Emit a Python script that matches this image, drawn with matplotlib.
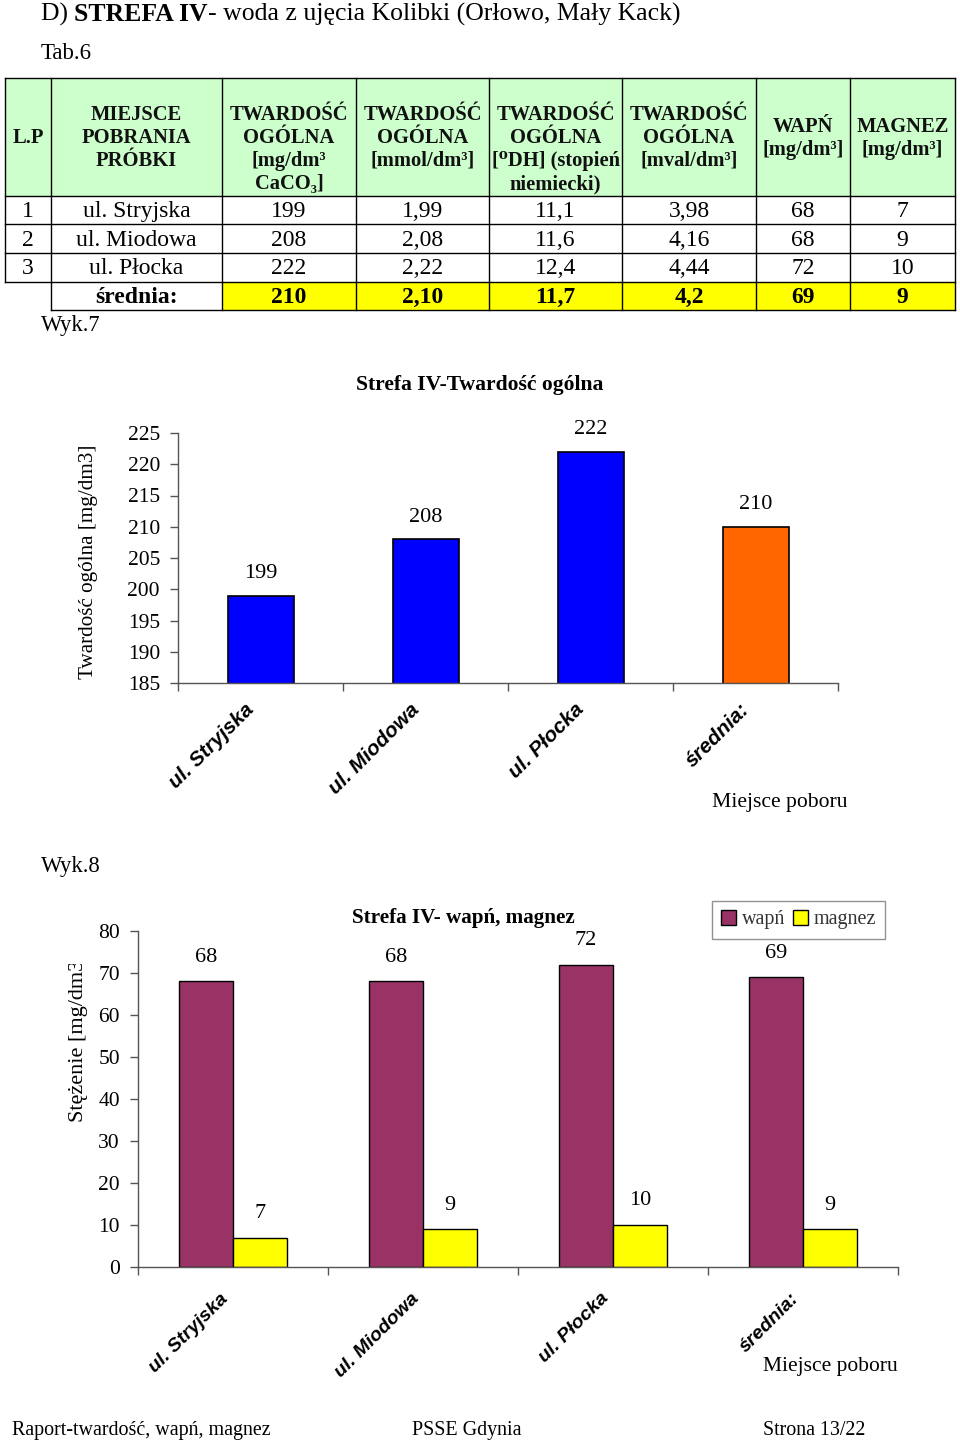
import matplotlib
matplotlib.use("Agg")
import matplotlib.pyplot as plt
from matplotlib.patches import Rectangle
from matplotlib.transforms import Bbox, ScaledTranslation
import numpy as np

# ---------------- data ----------------
places = ["ul. Stryjska", "ul. Miodowa", "ul. Płocka"]
avg_label = "średnia:"
hard_mg = [199, 208, 222]
hard_mg_avg = 210
hard_mmol = ["1,99", "2,08", "2,22"]
hard_mmol_avg = "2,10"
hard_dh = ["11,1", "11,6", "12,4"]
hard_dh_avg = "11,7"
hard_mval = ["3,98", "4,16", "4,44"]
hard_mval_avg = "4,2"
calcium = [68, 68, 72]
calcium_avg = 69
magnesium = [7, 9, 10]
magnesium_avg = 9
header_labels = ["L.P", "MIEJSCE\nPOBRANIA\nPRÓBKI",
                 "TWARDOŚĆ\nOGÓLNA\n[mg/dm³\nCaCO₃]",
                 "TWARDOŚĆ\nOGÓLNA\n[mmol/dm³]",
                 "TWARDOŚĆ\nOGÓLNA\n[⁰DH] (stopień\nniemiecki)",
                 "TWARDOŚĆ\nOGÓLNA\n[mval/dm³]",
                 "WAPŃ\n[mg/dm³]", "MAGNEZ\n[mg/dm³]"]
chart_cats = places + [avg_label]
chart1_vals = hard_mg + [hard_mg_avg]
chart2_ca = calcium + [calcium_avg]
chart2_mg = magnesium + [magnesium_avg]
chart1_yticks = list(range(185, 226, 5))
chart2_yticks = list(range(0, 81, 10))

SERIF = ["Liberation Serif", "DejaVu Serif"]
SANS = ["Liberation Sans", "DejaVu Sans"]

W, H = 960, 1442
fig = plt.figure(figsize=(W / 100, H / 100), dpi=100)
bg = fig.add_axes([0, 0, 1, 1])
bg.set_xlim(0, W)
bg.set_ylim(H, 0)
bg.axis("off")
renderer = fig.canvas.get_renderer()


def runs(x, y, pieces, size):
    """draw consecutive text runs (text, weight) from x on baseline y"""
    for txt, wt in pieces:
        t = bg.text(x, y, txt, fontsize=size, fontweight=wt, family=SERIF,
                    ha="left", va="baseline")
        bb = t.get_window_extent(renderer=renderer)
        x += bb.width


# ---------------- page text ----------------
runs(41, 21, [("D) ", "normal"), ("STREFA IV", "bold"),
              ("- woda z ujęcia Kolibki (Orłowo, Mały Kack)", "normal")], 18.5)
bg.text(41, 59, "Tab.6", fontsize=16.5, family=SERIF, va="baseline")
bg.text(41, 331, "Wyk.7", fontsize=16.3, family=SERIF, va="baseline")
bg.text(41, 872, "Wyk.8", fontsize=16.3, family=SERIF, va="baseline")
bg.text(12, 1435, "Raport-twardość, wapń, magnez", fontsize=14.4, family=SERIF, va="baseline")
bg.text(412, 1435, "PSSE Gdynia", fontsize=14.4, family=SERIF, va="baseline")
bg.text(763, 1435, "Strona 13/22", fontsize=14.4, family=SERIF, va="baseline")

# ---------------- table ----------------
col_x = [5, 51, 222, 356, 489, 622, 756, 850, 955]
row_y = [78, 196, 224, 253, 282, 310]
lw = 1.0
bg.add_patch(Rectangle((col_x[0], row_y[0]), col_x[-1] - col_x[0], row_y[1] - row_y[0],
                       facecolor="#CCFFCC", edgecolor="none"))
bg.add_patch(Rectangle((col_x[2], row_y[4]), col_x[-1] - col_x[2], row_y[5] - row_y[4],
                       facecolor="#FFFF00", edgecolor="none"))
for yy in row_y[:5]:
    bg.plot([col_x[0], col_x[-1]], [yy, yy], color="black", lw=lw)
bg.plot([col_x[1], col_x[-1]], [row_y[5], row_y[5]], color="black", lw=lw)
for i, xx in enumerate(col_x):
    y_end = row_y[4] if i == 0 else row_y[5]
    bg.plot([xx, xx], [row_y[0], y_end], color="black", lw=lw)

hdr_size = 14.8
for i, lab in enumerate(header_labels):
    cx = (col_x[i] + col_x[i + 1]) / 2
    n = lab.count("\n") + 1
    if n >= 3:
        bg.text(cx, 105, lab, ha="center", va="top", fontsize=hdr_size,
                fontweight="bold", family=SERIF, linespacing=1.2, color="#111")
    else:
        bg.text(cx, 138, lab, ha="center", va="center", fontsize=hdr_size,
                fontweight="bold", family=SERIF, linespacing=1.2, color="#111")

body_rows = []
for k in range(3):
    body_rows.append([str(k + 1), places[k], str(hard_mg[k]), hard_mmol[k], hard_dh[k],
                      hard_mval[k], str(calcium[k]), str(magnesium[k])])
body_size = 17
for r, row in enumerate(body_rows):
    cy = (row_y[r + 1] + row_y[r + 2]) / 2 + 1.5
    for i, val in enumerate(row):
        cx = (col_x[i] + col_x[i + 1]) / 2
        bg.text(cx, cy, val, ha="center", va="center", fontsize=body_size, family=SERIF)
avg_row = ["", avg_label, str(hard_mg_avg), hard_mmol_avg, hard_dh_avg, hard_mval_avg,
           str(calcium_avg), str(magnesium_avg)]
cy = (row_y[4] + row_y[5]) / 2 + 1.5
for i, val in enumerate(avg_row):
    if not val:
        continue
    cx = (col_x[i] + col_x[i + 1]) / 2
    bg.text(cx, cy, val, ha="center", va="center", fontsize=body_size, family=SERIF,
            fontweight="bold")


def px_axes(left, top, right, bottom):
    return fig.add_axes([left / W, 1 - bottom / H, (right - left) / W, (bottom - top) / H])


def style_axes(ax):
    for s in ["top", "right"]:
        ax.spines[s].set_visible(False)
    for s in ["left", "bottom"]:
        ax.spines[s].set_color("#555555")
        ax.spines[s].set_linewidth(1.0)
    ax.set_facecolor("none")


def cat_labels(ax, xs, labels, dx_px, dy_px, size):
    ax.set_xticks(xs)
    ax.set_xticklabels([""] * len(xs))
    ax.tick_params(axis="x", which="major", length=0)
    off = ScaledTranslation(dx_px / 100, -dy_px / 100, fig.dpi_scale_trans)
    for xi, lab in zip(xs, labels):
        ax.text(xi, 0, lab, transform=ax.get_xaxis_transform() + off, rotation=45,
                rotation_mode="anchor", ha="right", va="top", family=SANS,
                fontsize=size, fontweight="bold", fontstyle="italic", clip_on=False)


# ---------------- chart 1 ----------------
ax1 = px_axes(178, 433, 838, 683)
style_axes(ax1)
x = np.arange(len(chart_cats))
colors1 = ["#0000FF"] * 3 + ["#FF6600"]
ax1.bar(x, chart1_vals, width=0.4, color=colors1, edgecolor="black", linewidth=1.2)
ax1.set_xlim(-0.5, 3.5)
ax1.set_ylim(185, 225)
ax1.set_yticks(chart1_yticks)
ax1.set_yticklabels([str(v) for v in chart1_yticks], family=SERIF, fontsize=15.5)
ax1.tick_params(axis="y", direction="out", length=6, width=1, color="#555555", pad=7)
cat_labels(ax1, x, chart_cats, -16, 17, 15)
ax1.set_xticks(np.arange(-0.5, 4.0, 1.0), minor=True)
ax1.tick_params(axis="x", which="minor", direction="out", length=6, width=1, color="#555555")
for xi, v in zip(x, chart1_vals):
    ax1.annotate(str(v), (xi, v), xytext=(0, 9), textcoords="offset points",
                 ha="center", va="bottom", family=SERIF, fontsize=16)
bg.text(480, 390, "Strefa IV-Twardość ogólna", ha="center", va="baseline",
        family=SERIF, fontsize=15.6, fontweight="bold")
bg.text(88, 562, "Twardość ogólna [mg/dm3]", rotation=90, ha="center", va="center",
        family=SERIF, fontsize=15.2)
bg.text(780, 807, "Miejsce poboru", ha="center", va="baseline", family=SERIF, fontsize=15.6)

# ---------------- chart 2 ----------------
ax2 = px_axes(138, 931, 898, 1267)
style_axes(ax2)
bw = 0.285
ax2.bar(x - bw / 2, chart2_ca, width=bw, color="#993366", edgecolor="black",
        linewidth=1.0, label="wapń")
ax2.bar(x + bw / 2, chart2_mg, width=bw, color="#FFFF00", edgecolor="black",
        linewidth=1.0, label="magnez")
ax2.set_xlim(-0.5, 3.5)
ax2.set_ylim(0, 80)
ax2.set_yticks(chart2_yticks)
ax2.set_yticklabels([str(v) for v in chart2_yticks], family=SERIF, fontsize=15.5)
ax2.tick_params(axis="y", direction="out", length=6, width=1, color="#555555", pad=7)
cat_labels(ax2, x, chart_cats, -13, 23, 14)
ax2.set_xticks(np.arange(-0.5, 4.0, 1.0), minor=True)
ax2.tick_params(axis="x", which="minor", direction="out", length=6, width=1, color="#555555")
for xi, v in zip(x, chart2_ca):
    ax2.annotate(str(v), (xi - bw / 2, v), xytext=(0, 10.5), textcoords="offset points",
                 ha="center", va="bottom", family=SERIF, fontsize=16)
for xi, v in zip(x, chart2_mg):
    ax2.annotate(str(v), (xi + bw / 2, v), xytext=(0, 10.5), textcoords="offset points",
                 ha="center", va="bottom", family=SERIF, fontsize=16)
leg = ax2.legend(loc="upper left", bbox_to_anchor=((712 - 138) / 760, (1267 - 901) / 336),
                 borderaxespad=0, ncol=2, frameon=True, fancybox=False, handlelength=0.75,
                 handleheight=0.75, handletextpad=0.3, columnspacing=0.35, borderpad=0.45,
                 prop={"family": SERIF, "size": 14.5})
leg.get_frame().set_edgecolor("#777777")
leg.get_frame().set_linewidth(1.0)
for t in leg.get_texts():
    t.set_color("#333333")
bg.text(463, 923, "Strefa IV- wapń, magnez", ha="center", va="baseline",
        family=SERIF, fontsize=15.2, fontweight="bold")
yl = bg.text(79, 1122, "Stężenie [mg/dm3]", rotation=90, ha="center", va="bottom",
             family=SERIF, fontsize=16)
clip = Bbox.from_extents(0, 0, W, H - 964)
yl.set_clip_box(clip)
yl.set_clip_on(True)
bg.text(830, 1371, "Miejsce poboru", ha="center", va="baseline", family=SERIF, fontsize=15.5)

fig.savefig("out.png", dpi=100)
